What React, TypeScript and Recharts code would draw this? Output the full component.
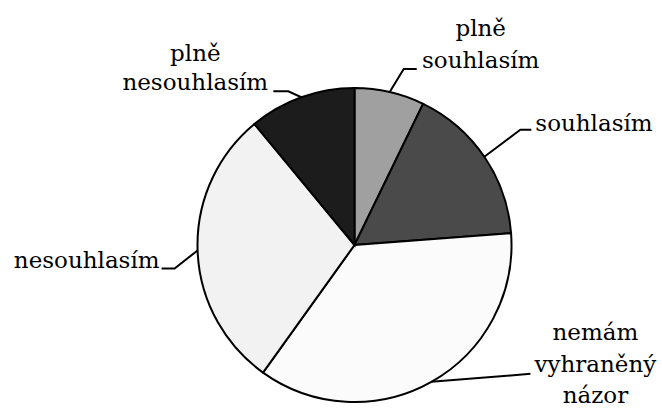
import { PieChart, Pie, Cell } from "recharts";

// share of answers, clockwise from 12 o'clock
const answers = [
    "plně souhlasím",
    "souhlasím",
    "nemám vyhraněný názor",
    "nesouhlasím",
    "plně nesouhlasím",
];
const shares = [7.2, 16.6, 36.1, 29.1, 11.0];
const labelLines = [
    ["plně", "souhlasím"],
    ["souhlasím"],
    ["nemám", "vyhraněný", "názor"],
    ["nesouhlasím"],
    ["plně", "nesouhlasím"],
];
const fills = ["#a0a0a0", "#4a4a4a", "#fbfbfb", "#f2f2f2", "#1c1c1c"];

// leader geometry relative to the slice edge point, text relative to leader end
const leaders = [
    { elbow: [14, -23], end: [27, -23], anchor: "middle", tx: 64, ty: [-33, -1] },
    { elbow: [36, -27], end: [47, -27], anchor: "start", tx: 4, ty: [1] },
    { elbow: [99, -8], end: [99, -8], anchor: "middle", tx: 65, ty: [-34, -2, 29] },
    { elbow: [-23, 18], end: [-36, 18], anchor: "end", tx: -2, ty: [0] },
    { elbow: [-13, -6], end: [-28, -6], anchor: "middle", tx: -78, ty: [-30, -1] },
];

const data = answers.map((name, i) => ({ name, value: shares[i] }));
const RAD = Math.PI / 180;

function renderLabel(props: any) {
    const { cx, cy, midAngle, outerRadius, index } = props;
    const ex = cx + outerRadius * Math.cos(-midAngle * RAD);
    const ey = cy + outerRadius * Math.sin(-midAngle * RAD);
    const l = leaders[index];
    const bx = ex + l.elbow[0];
    const by = ey + l.elbow[1];
    const fx = ex + l.end[0];
    const fy = ey + l.end[1];
    return (
        <g>
            <polyline
                points={`${ex},${ey} ${bx},${by} ${fx},${fy}`}
                fill="none"
                stroke="#000"
                strokeWidth={2}
            />
            {labelLines[index].map((line, j) => (
                <text
                    key={j}
                    x={fx + l.tx}
                    y={fy + l.ty[j]}
                    textAnchor={l.anchor}
                    style={{ fontFamily: '"DejaVu Serif", serif', fontSize: 23 }}
                    fill="#000"
                    stroke="none"
                >
                    {line}
                </text>
            ))}
        </g>
    );
}

export default function App() {
    return (
        <div style={{ position: "absolute", left: 0, top: 0, background: "#fff" }}>
            <PieChart
                width={662}
                height={408}
                margin={{ top: 0, right: 0, bottom: 0, left: 0 }}
            >
                <Pie
                    data={data}
                    dataKey="value"
                    nameKey="name"
                    cx={354.5}
                    cy={245}
                    outerRadius={157}
                    startAngle={90}
                    endAngle={-270}
                    stroke="#000"
                    strokeWidth={2}
                    label={renderLabel}
                    labelLine={false}
                    isAnimationActive={false}
                >
                    {data.map((d, i) => (
                        <Cell key={d.name} fill={fills[i]} />
                    ))}
                </Pie>
            </PieChart>
        </div>
    );
}
